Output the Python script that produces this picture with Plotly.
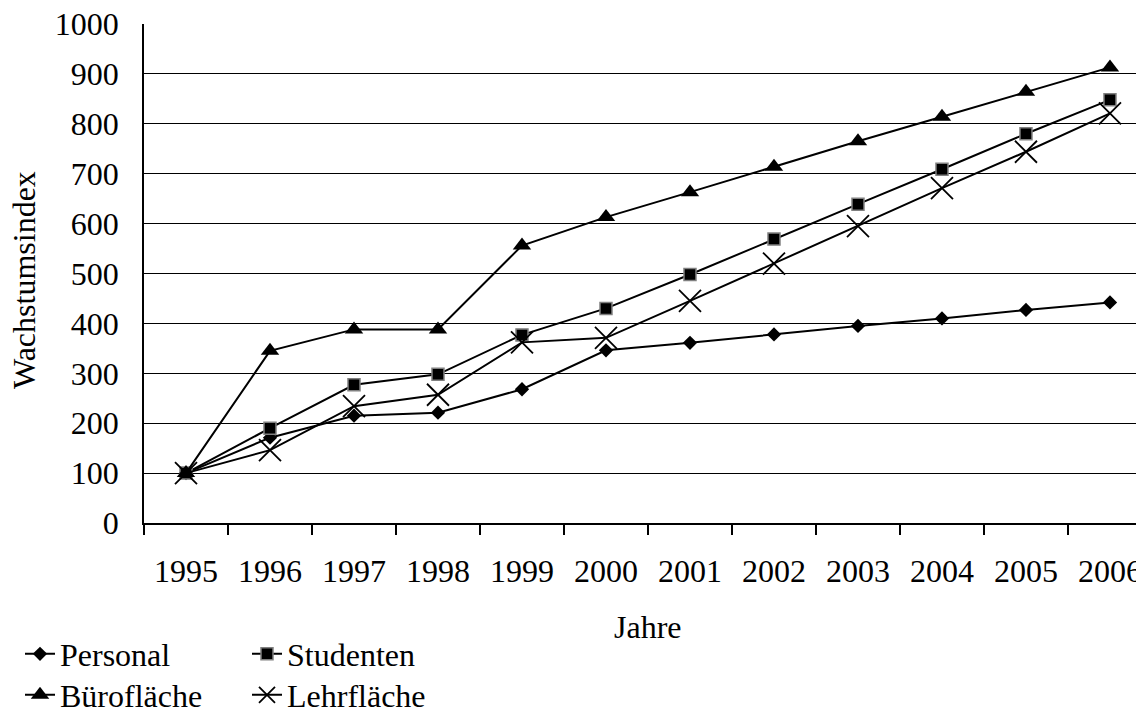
import plotly.graph_objects as go

years = ["1995", "1996", "1997", "1998", "1999", "2000", "2001", "2002", "2003", "2004", "2005", "2006"]
personal = [100, 171, 215, 221, 268, 346, 361, 378, 395, 410, 427, 442]
studenten = [100, 190, 277, 298, 377, 430, 498, 569, 639, 709, 780, 848]
buero = [100, 345, 388, 388, 556, 613, 663, 714, 765, 814, 864, 913]
lehr = [100, 146, 234, 257, 362, 371, 445, 520, 595, 671, 744, 821]

FONT = "Liberation Serif"
FS = 32
TXT = dict(family=FONT, size=FS, color="black")

fig = go.Figure()
line = dict(color="black", width=2)
fig.add_trace(go.Scatter(x=years, y=personal, name="Personal", mode="lines+markers",
                         line=line, marker=dict(symbol="diamond", size=11, color="black"),
                         legend="legend"))
fig.add_trace(go.Scatter(x=years, y=studenten, name="Studenten", mode="lines+markers",
                         line=line, marker=dict(symbol="square", size=12, color="black",
                                                line=dict(color="#808080", width=1.5)),
                         legend="legend"))
fig.add_trace(go.Scatter(x=years, y=buero, name="Bürofläche", mode="lines+markers",
                         line=line, marker=dict(symbol="triangle-up", size=16, color="black"),
                         legend="legend2"))
fig.add_trace(go.Scatter(x=years, y=lehr, name="Lehrfläche", mode="lines+markers",
                         line=line, marker=dict(symbol="x-thin-open", size=22, color="black",
                                                line=dict(color="black", width=1.8)),
                         legend="legend2"))

fig.update_layout(
    width=1136, height=703,
    margin=dict(l=136, r=0, t=16, b=188, autoexpand=False),
    paper_bgcolor="white", plot_bgcolor="white",
    font=TXT,
    xaxis=dict(type="category", range=[-0.5, 11.405], tickson="boundaries",
               ticks="outside", ticklen=10, tickwidth=1.5, tickcolor="black",
               showline=True, linecolor="black", linewidth=1.5, showgrid=False,
               tickfont=TXT, ticklabelstandoff=19, automargin=False,
               ticklabeloverflow="allow"),
    yaxis=dict(range=[0, 1000], dtick=100, tick0=0, ticks="outside", ticklen=17,
               tickwidth=1.5, tickcolor="rgba(0,0,0,0)", showline=True, linecolor="black",
               linewidth=1.5, showgrid=True, gridcolor="black", gridwidth=1,
               zeroline=False, tickfont=TXT, automargin=False,
               ticklabeloverflow="allow",
               minor=dict(dtick=100, tick0=0, ticks="outside", ticklen=10,
                          tickwidth=1.5, tickcolor="black", showgrid=False)),
    legend=dict(orientation="h", x=-0.124, xanchor="left", y=-0.2625, yanchor="middle",
                entrywidth=182, font=TXT, bgcolor="rgba(0,0,0,0)", traceorder="normal",
                borderwidth=0),
    legend2=dict(orientation="h", x=-0.124, xanchor="left", y=-0.3447, yanchor="middle",
                 entrywidth=182, font=TXT, bgcolor="rgba(0,0,0,0)", traceorder="normal",
                 borderwidth=0),
    annotations=[
        dict(text="Wachstumsindex", xref="paper", yref="paper", x=-0.12, y=0.487,
             xanchor="center", yanchor="middle", textangle=-90, showarrow=False, font=TXT),
        dict(text="Jahre", xref="paper", yref="paper", x=0.504, y=-0.2084,
             xanchor="center", yanchor="middle", showarrow=False, font=TXT),
    ],
)

fig.write_html("out.html")
